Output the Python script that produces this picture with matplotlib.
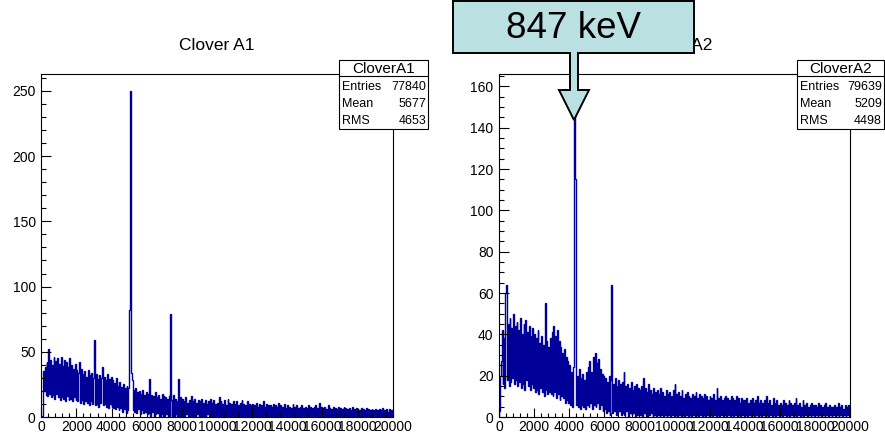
import numpy as np
import matplotlib
matplotlib.use("Agg")
import matplotlib.pyplot as plt
from matplotlib.patches import Polygon, Rectangle
from matplotlib.lines import Line2D
from matplotlib.ticker import MultipleLocator

plt.rcParams['font.family'] = ['Liberation Sans', 'DejaVu Sans']

# histogram contents, 50 channels per bin, 0..20000 (one row = 1000 channels)
bin_width = 50
x_max = 20000

counts_a1 = [
    0, 1, 35, 20, 38, 17, 42, 16, 52, 18, 44, 15, 40, 17, 46, 14, 43, 18, 45, 15,
    41, 13, 46, 15, 39, 14, 44, 12, 42, 16, 38, 13, 45, 14, 40, 12, 37, 15, 41, 13,
    36, 12, 34, 42, 11, 37, 13, 33, 10, 35, 12, 31, 11, 36, 9, 32, 12, 34, 10, 30,
    59, 9, 33, 10, 29, 8, 32, 11, 30, 38, 9, 31, 10, 28, 8, 33, 7, 29, 10, 31,
    8, 28, 7, 26, 6, 30, 8, 24, 5, 27, 7, 23, 4, 25, 6, 22, 3, 24, 5, 22,
    82, 250, 34, 28, 5, 21, 4, 22, 3, 19, 6, 20, 2, 18, 5, 21, 3, 17, 4, 19,
    2, 18, 3, 29, 1, 17, 4, 16, 0, 19, 2, 15, 3, 17, 1, 14, 2, 18, 0, 16,
    1, 15, 2, 14, 0, 16, 1, 79, 13, 0, 17, 1, 14, 2, 12, 0, 29, 1, 15, 0,
    14, 1, 12, 0, 15, 2, 11, 0, 13, 1, 16, 0, 12, 1, 14, 0, 11, 2, 13, 0,
    12, 1, 14, 0, 11, 1, 13, 0, 10, 2, 12, 0, 14, 1, 11, 0, 13, 1, 10, 0,
    11, 1, 15, 0, 12, 1, 10, 0, 13, 1, 9, 0, 14, 1, 11, 0, 10, 1, 12, 0,
    10, 1, 12, 0, 9, 1, 11, 0, 13, 1, 10, 0, 9, 1, 12, 0, 10, 1, 9, 0,
    10, 1, 9, 0, 11, 1, 8, 0, 10, 1, 9, 0, 12, 1, 8, 0, 10, 1, 9, 0,
    9, 1, 8, 0, 10, 1, 9, 0, 8, 1, 11, 0, 9, 1, 8, 0, 10, 1, 7, 0,
    9, 1, 8, 0, 7, 1, 10, 0, 8, 1, 9, 0, 7, 1, 8, 0, 9, 1, 7, 0,
    8, 1, 7, 0, 9, 1, 8, 0, 7, 1, 8, 0, 9, 1, 7, 0, 11, 1, 8, 0,
    7, 1, 8, 0, 6, 1, 9, 0, 7, 1, 6, 0, 8, 1, 7, 0, 6, 1, 8, 0,
    7, 1, 6, 0, 8, 1, 7, 0, 6, 1, 7, 0, 5, 1, 8, 0, 6, 1, 7, 0,
    6, 1, 5, 0, 7, 1, 6, 0, 5, 1, 7, 0, 6, 1, 5, 0, 6, 1, 5, 0,
    6, 1, 5, 0, 6, 1, 5, 0, 7, 1, 5, 0, 6, 1, 4, 0, 6, 1, 5, 0,
]

counts_a2 = [
    3, 20, 27, 42, 16, 38, 14, 60, 64, 18, 45, 15, 48, 17, 43, 19, 50, 16, 44, 18,
    46, 15, 42, 17, 48, 14, 40, 16, 45, 13, 47, 18, 41, 15, 44, 13, 39, 16, 43, 14,
    40, 12, 38, 13, 42, 11, 36, 14, 39, 12, 35, 10, 55, 13, 37, 11, 34, 12, 38, 11,
    41, 10, 44, 12, 39, 9, 42, 11, 37, 8, 34, 10, 31, 9, 33, 7, 29, 8, 27, 7,
    25, 6, 22, 5, 24, 33, 152, 115, 6, 20, 5, 23, 4, 19, 6, 21, 5, 18, 4, 22,
    6, 24, 5, 27, 7, 22, 4, 29, 6, 31, 5, 26, 7, 28, 4, 23, 6, 21, 3, 20,
    4, 19, 2, 17, 3, 20, 1, 18, 64, 2, 16, 3, 19, 1, 15, 2, 18, 3, 16, 1,
    17, 2, 22, 1, 15, 3, 16, 0, 14, 2, 17, 1, 13, 2, 15, 0, 16, 1, 14, 2,
    13, 1, 15, 0, 19, 2, 14, 1, 12, 0, 16, 1, 13, 2, 11, 0, 14, 1, 12, 0,
    13, 1, 11, 0, 14, 1, 12, 0, 10, 1, 13, 0, 11, 1, 12, 0, 10, 1, 13, 0,
    16, 1, 11, 0, 12, 1, 10, 0, 13, 1, 9, 0, 11, 1, 12, 0, 10, 1, 9, 0,
    11, 1, 10, 0, 12, 1, 9, 0, 11, 1, 10, 0, 9, 1, 11, 0, 10, 1, 8, 0,
    10, 1, 9, 0, 11, 1, 8, 0, 14, 1, 9, 0, 10, 1, 8, 0, 9, 1, 10, 0,
    9, 1, 8, 0, 10, 1, 9, 0, 8, 1, 10, 0, 9, 1, 7, 0, 9, 1, 8, 0,
    8, 1, 9, 0, 7, 1, 8, 0, 9, 1, 7, 0, 8, 1, 10, 0, 7, 1, 8, 0,
    7, 1, 8, 0, 10, 1, 7, 0, 8, 1, 6, 0, 9, 1, 7, 0, 8, 1, 6, 0,
    7, 1, 6, 0, 8, 1, 7, 0, 6, 1, 8, 0, 7, 1, 6, 0, 7, 1, 9, 0,
    6, 1, 7, 0, 5, 1, 8, 0, 6, 1, 7, 0, 5, 1, 6, 0, 7, 1, 6, 0,
    6, 1, 5, 0, 7, 1, 6, 0, 5, 1, 6, 0, 7, 1, 5, 0, 6, 1, 5, 0,
    5, 1, 6, 0, 5, 1, 7, 0, 5, 1, 6, 0, 4, 1, 6, 0, 5, 1, 6, 0,
]

titles = ['Clover A1', 'Clover A2']
stat_names = ['CloverA1', 'CloverA2']
entries = [77840, 79639]
means = [5677, 5209]
rms_values = [4653, 4498]
y_tops = [263, 166]
y_major = [50, 20]
y_minor = [10, 5]
peak_label = '847 keV'

W, H = 885, 440
line_col = '#000099'


def fx(px):
    return px / W


def fy(py):
    return 1 - py / H


fig = plt.figure(figsize=(W / 100, H / 100), dpi=100)

axes_px = [(41.3, 392.7), (499, 850)]
top_px, bottom_px = 74, 417
stat_boxes = [(339, 428), (797, 884)]

edges = np.arange(0, x_max + bin_width, bin_width)

for i, counts in enumerate([counts_a1, counts_a2]):
    x0, x1 = axes_px[i]
    ax = fig.add_axes([fx(x0), fy(bottom_px), (x1 - x0) / W, (bottom_px - top_px) / H])
    ax.stairs(counts, edges, color=line_col, lw=1.0)
    ax.set_xlim(0, x_max)
    ax.set_ylim(0, y_tops[i])
    ax.xaxis.set_major_locator(MultipleLocator(2000))
    ax.xaxis.set_minor_locator(MultipleLocator(400))
    ax.yaxis.set_major_locator(MultipleLocator(y_major[i]))
    ax.yaxis.set_minor_locator(MultipleLocator(y_minor[i]))
    ax.tick_params(which='both', direction='in', top=False, right=False,
                   labelsize=10, width=0.8)
    ax.tick_params(axis='y', which='major', length=7.2, pad=4)
    ax.tick_params(axis='y', which='minor', length=3.6)
    ax.tick_params(axis='x', which='major', length=6.5, pad=2.5)
    ax.tick_params(axis='x', which='minor', length=3.2)
    for sp in ax.spines.values():
        sp.set_linewidth(0.8)

    # title
    fig.text(fx((x0 + x1) / 2), fy(46), titles[i], ha='center', va='center',
             fontsize=12.5, zorder=2)

    # stats box
    bx0, bx1 = stat_boxes[i]
    by0, bdiv, by1 = 60, 76.5, 129
    fig.add_artist(Rectangle((fx(bx0), fy(by1)), (bx1 - bx0) / W, (by1 - by0) / H,
                             transform=fig.transFigure, facecolor='white',
                             edgecolor='black', lw=0.8, zorder=3))
    fig.add_artist(Line2D([fx(bx0), fx(bx1)], [fy(bdiv), fy(bdiv)],
                          transform=fig.transFigure, color='black', lw=0.8, zorder=4))
    fig.text(fx((bx0 + bx1) / 2), fy((by0 + bdiv) / 2 + 0.5), stat_names[i],
             ha='center', va='center', fontsize=11, zorder=4)
    rows = [('Entries', entries[i]), ('Mean', means[i]), ('RMS', rms_values[i])]
    for k, (name, val) in enumerate(rows):
        yy = 87 + k * 16.8
        fig.text(fx(bx0 + 3), fy(yy), name, ha='left', va='center', fontsize=9, zorder=4)
        fig.text(fx(bx1 - 2), fy(yy), str(val), ha='right', va='center', fontsize=9, zorder=4)

# callout box with arrow pointing at the peak
outline_px = [(453, 1), (694, 1), (694, 53), (578, 53), (578, 90), (589, 90),
              (574, 120), (559, 90), (570, 90), (570, 53), (453, 53)]
fig.add_artist(Polygon([(fx(a), fy(b)) for a, b in outline_px], closed=True,
                       transform=fig.transFigure, facecolor='#bae0e2',
                       edgecolor='black', lw=1.4, zorder=5))
fig.text(fx(573), fy(28), peak_label, ha='center', va='center', fontsize=26.5, zorder=6)

fig.savefig('out.png', dpi=100)
